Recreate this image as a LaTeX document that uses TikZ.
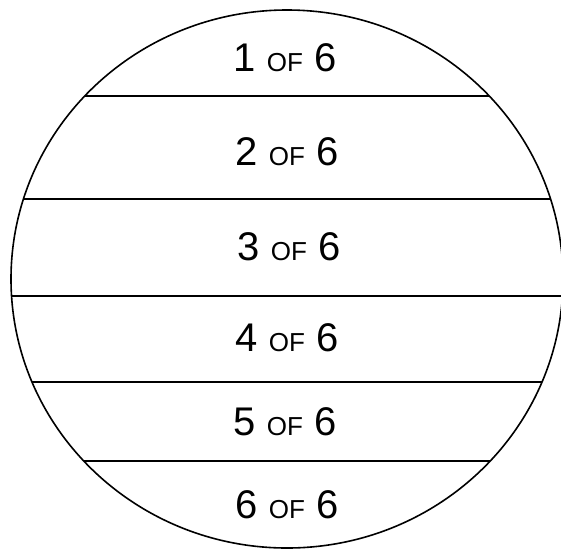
\documentclass[tikz,border=0pt]{standalone}
\usepackage{fontspec}
\setmainfont{Liberation Sans}
\tikzset{
  rim/.style={line width=1.6pt, draw=black},
  divider/.style={line width=2.2pt, draw=black},
  lbl/.style={font=\fontsize{40}{40}\selectfont, inner sep=0pt, anchor=center},
}
\newcommand{\ofword}{{\fontsize{26}{26}\selectfont OF}}
\begin{document}
\begin{tikzpicture}[x=1pt,y=-1pt]
\useasboundingbox[fill=white] (0,0) rectangle (561,550);
\coordinate (c) at (287,279);
\draw[rim] (c) ellipse [x radius=276, y radius=269];
\foreach \yy [count=\i] in {96,199,296,382,461}{
  \pgfmathsetmacro{\hw}{276*sqrt(1-((\yy-279)/269)^2)}
  \coordinate (l\i) at ({287-\hw},\yy);
  \coordinate (r\i) at ({287+\hw},\yy);
  \draw[divider] (l\i) -- (r\i);
}
\node[lbl] (t1) at (285,58) {1 \ofword\ 6};
\node[lbl] (t2) at (287,152) {2 \ofword\ 6};
\node[lbl] (t3) at (289,247) {3 \ofword\ 6};
\node[lbl] (t4) at (287,338) {4 \ofword\ 6};
\node[lbl] (t5) at (285,422) {5 \ofword\ 6};
\node[lbl] (t6) at (287,505) {6 \ofword\ 6};
\end{tikzpicture}
\end{document}
